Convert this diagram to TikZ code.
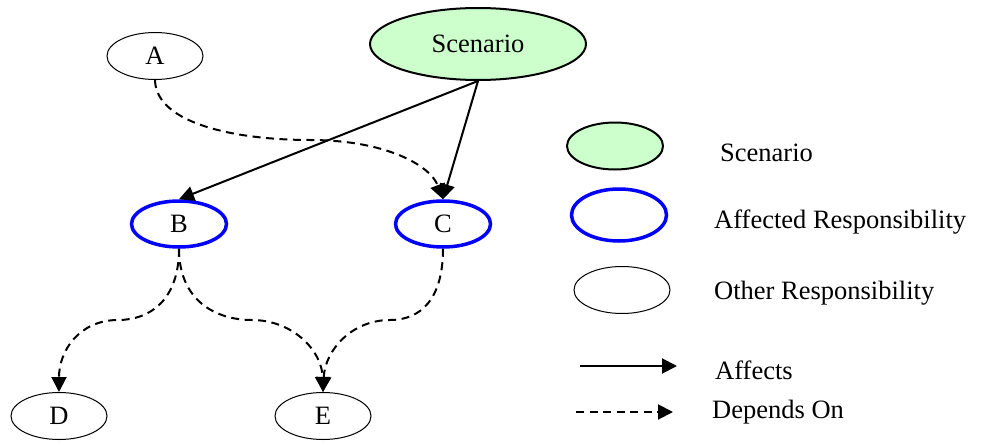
\documentclass[tikz,border=0pt]{standalone}
\usepackage{fontspec}
\setmainfont{Liberation Serif}
\usetikzlibrary{shapes.geometric,arrows.meta}
\definecolor{scgreen}{RGB}{204,255,204}
\tikzset{
  resp/.style={ellipse,draw,line width=1pt,minimum width=96pt,minimum height=47pt,inner sep=0pt,font=\fontsize{26.5}{28}\selectfont},
  affresp/.style={resp,draw=blue,line width=3.5pt,minimum width=95pt,minimum height=46pt},
  scen/.style={resp,fill=scgreen,line width=2pt},
  tip/.style={-{Triangle[length=15pt,width=15pt]}},
  affects/.style={tip,line width=2pt},
  depends/.style={tip,line width=2pt,dash pattern=on 8pt off 5.5pt},
  legtext/.style={anchor=west,inner sep=0pt,font=\fontsize{26.5}{28}\selectfont}
}
\begin{document}
\begin{tikzpicture}[x=1pt,y=-1pt]
\path[use as bounding box,fill=white] (0,0) rectangle (984,444);
% graph nodes
\node[scen,minimum width=216pt,minimum height=72pt] (scn) at (478,44) {Scenario};
\node[resp] (A) at (155,56) {A};
\node[affresp] (B) at (179,224) {B};
\node[affresp] (C) at (443,224) {C};
\node[resp] (D) at (59,416) {D};
\node[resp] (E) at (323,416) {E};
% edges
\draw[affects] (scn.south) -- (B.north);
\draw[affects] (scn.south) -- (C.north);
\draw[depends] (A.south) .. controls (156,125) and (240,140) .. (310,140) .. controls (385,140) and (430,165) .. (C.north);
\draw[depends] (B.south) .. controls (179,300) and (150,320) .. (118,320) .. controls (80,320) and (59,350) .. (D.north);
\draw[depends] (B.south) .. controls (179,300) and (215,320) .. (252,320) .. controls (292,320) and (322,350) .. (E.north);
\draw[depends] (C.south) .. controls (443,300) and (420,320) .. (390,320) .. controls (352,320) and (325,350) .. (E.north);
% legend
\node[scen] (lg1) at (615,146) {};
\node[affresp,minimum width=95pt,minimum height=52pt] (lg2) at (619,215) {};
\node[resp] (lg3) at (622,290) {};
\coordinate (la0) at (580,366);
\coordinate (la1) at (677,366);
\coordinate (ld0) at (576,412);
\coordinate (ld1) at (673,412);
\draw[affects] (la0) -- (la1);
\draw[depends] (ld0) -- (ld1);
\node[legtext] (t1) at (720,153) {Scenario};
\node[legtext] (t2) at (714,222) {Affected Responsibility};
\node[legtext] (t3) at (714,293) {Other Responsibility};
\node[legtext] (t4) at (715,370) {Affects};
\node[legtext] (t5) at (712,412) {Depends On};
\end{tikzpicture}
\end{document}
